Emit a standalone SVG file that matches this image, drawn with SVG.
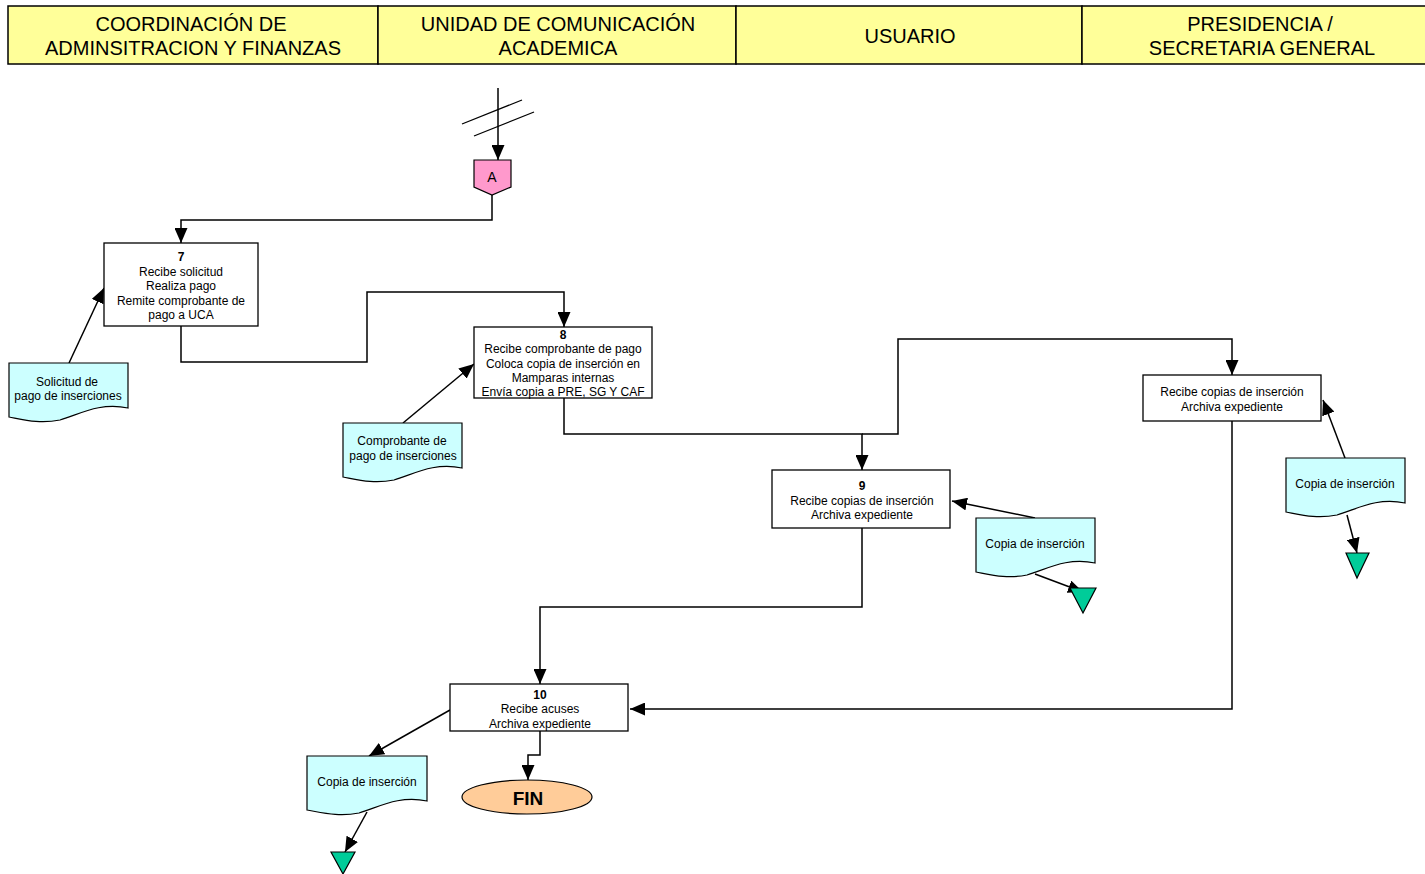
<svg xmlns="http://www.w3.org/2000/svg" width="1425" height="874" viewBox="0 0 1425 874">
<style>
.hdr{fill:#FFFF99;stroke:#000;stroke-width:1.5}
.ht{font-family:"Liberation Sans",Arial,sans-serif;font-size:20px;text-anchor:middle;fill:#000}
.box{fill:#fff;stroke:#000;stroke-width:1.3}
.t{font-family:"Liberation Sans",Arial,sans-serif;font-size:12px;text-anchor:middle;fill:#000}
.b{font-weight:bold}
.doc{fill:#CCFFFF;stroke:#000;stroke-width:1.2}
.tri{fill:#00CC99;stroke:#000;stroke-width:1.2}
.c{fill:none;stroke:#000;stroke-width:1.5}
</style>
<defs>
<marker id="ar" viewBox="0 0 15 13" refX="15" refY="6.5" markerWidth="15" markerHeight="13" markerUnits="userSpaceOnUse" orient="auto">
<path d="M0,0 L15,6.5 L0,13 Z" fill="#000"/>
</marker>
</defs>
<rect width="1425" height="874" fill="#fff"/>
<g id="header">
<rect class="hdr" x="8" y="6" width="370" height="58"/>
<rect class="hdr" x="378" y="6" width="358" height="58"/>
<rect class="hdr" x="736" y="6" width="346" height="58"/>
<rect class="hdr" x="1082" y="6" width="345" height="58"/>
<text class="ht" x="191" y="31">COORDINACIÓN DE</text>
<text class="ht" x="193" y="55">ADMINSITRACION Y FINANZAS</text>
<text class="ht" x="558" y="31">UNIDAD DE COMUNICACIÓN</text>
<text class="ht" x="558" y="55">ACADEMICA</text>
<text class="ht" x="910" y="43">USUARIO</text>
<text class="ht" x="1260" y="31">PRESIDENCIA /</text>
<text class="ht" x="1262" y="55">SECRETARIA GENERAL</text>
</g>
<g id="connectors">
<line x1="462" y1="124" x2="522" y2="100" stroke="#000" stroke-width="1.3"/>
<line x1="474" y1="136" x2="534" y2="112" stroke="#000" stroke-width="1.3"/>
<path class="c" d="M498,88 V160" marker-end="url(#ar)"/>
<path class="c" d="M492,195 V220 H181 V243" marker-end="url(#ar)"/>
<path class="c" d="M69,363 L104,288" marker-end="url(#ar)"/>
<path class="c" d="M181,326 V362 H367 V292 H564 V327" marker-end="url(#ar)"/>
<path class="c" d="M403,423 L474,364" marker-end="url(#ar)"/>
<path class="c" d="M564,398 V434 H862 V470" marker-end="url(#ar)"/>
<path class="c" d="M862,434 H898 V339 H1232 V375" marker-end="url(#ar)"/>
<path class="c" d="M1035,518 L952,501" marker-end="url(#ar)"/>
<path class="c" d="M1035,574 L1083,592" marker-end="url(#ar)"/>
<path class="c" d="M1345,458 L1323,400" marker-end="url(#ar)"/>
<path class="c" d="M1347,515 L1357,553" marker-end="url(#ar)"/>
<path class="c" d="M1232,421 V709 H630" marker-end="url(#ar)"/>
<path class="c" d="M862,528 V607 H540 V684" marker-end="url(#ar)"/>
<path class="c" d="M540,731 V755 H528 V780" marker-end="url(#ar)"/>
<path class="c" d="M450,710 L369,756" marker-end="url(#ar)"/>
<path class="c" d="M367,812 L345,852" marker-end="url(#ar)"/>
</g>
<g id="offpage-A">
<path d="M474,160 H511 V187 L492,195 L474,187 Z" fill="#FF99CC" stroke="#000" stroke-width="1.2"/>
<text class="t" x="492" y="182" style="font-size:14px">A</text>
</g>
<g id="step7">
<rect class="box" x="104" y="243" width="154" height="83"/>
<text class="t b" x="181" y="261">7</text>
<text class="t" x="181" y="276">Recibe solicitud</text>
<text class="t" x="181" y="290">Realiza pago</text>
<text class="t" x="181" y="305">Remite comprobante de</text>
<text class="t" x="181" y="319">pago a UCA</text>
</g>
<g id="doc-solicitud">
<path class="doc" d="M9,363 H128 V408 C100,402 80,414 60,420 C40,424 25,420 9,417 Z"/>
<text class="t" x="67" y="386">Solicitud de</text>
<text class="t" x="68" y="400">pago de inserciones</text>
</g>
<g id="step8">
<rect class="box" x="474" y="327" width="178" height="71"/>
<text class="t b" x="563" y="339">8</text>
<text class="t" x="563" y="353">Recibe comprobante de pago</text>
<text class="t" x="563" y="368">Coloca copia de inserción en</text>
<text class="t" x="563" y="382">Mamparas internas</text>
<text class="t" x="563" y="396">Envía copia a PRE, SG Y CAF</text>
</g>
<g id="doc-comprobante">
<path class="doc" d="M343,423 H462 V468 C434,462 414,474 394,480 C374,484 359,480 343,477 Z"/>
<text class="t" x="402" y="445">Comprobante de</text>
<text class="t" x="403" y="460">pago de inserciones</text>
</g>
<g id="step9">
<rect class="box" x="772" y="470" width="178" height="58"/>
<text class="t b" x="862" y="490">9</text>
<text class="t" x="862" y="505">Recibe copias de inserción</text>
<text class="t" x="862" y="519">Archiva expediente</text>
</g>
<g id="doc-copia-usuario">
<path class="doc" d="M976,518 H1095 V563 C1067,557 1047,569 1027,575 C1007,579 992,575 976,572 Z"/>
<text class="t" x="1035" y="548">Copia de inserción</text>
</g>
<polygon class="tri" points="1070,588 1096,588 1083,613"/>
<g id="step-pre">
<rect class="box" x="1143" y="375" width="178" height="46"/>
<text class="t" x="1232" y="396">Recibe copias de inserción</text>
<text class="t" x="1232" y="411">Archiva expediente</text>
</g>
<g id="doc-copia-pre">
<path class="doc" d="M1286,458 H1405 V503 C1377,497 1357,509 1337,515 C1317,519 1302,515 1286,512 Z"/>
<text class="t" x="1345" y="488">Copia de inserción</text>
</g>
<polygon class="tri" points="1346,553 1369,553 1357,578"/>
<g id="step10">
<rect class="box" x="450" y="684" width="178" height="47"/>
<text class="t b" x="540" y="699">10</text>
<text class="t" x="540" y="713">Recibe acuses</text>
<text class="t" x="540" y="728">Archiva expediente</text>
</g>
<g id="fin">
<ellipse cx="527" cy="797" rx="65" ry="17" fill="#FFCC99" stroke="#000" stroke-width="1.2"/>
<text x="528" y="805" style="font-family:'Liberation Sans',Arial,sans-serif;font-size:19px;font-weight:bold;text-anchor:middle">FIN</text>
</g>
<g id="doc-copia-uca">
<path class="doc" d="M307,756 H427 V801 C399,795 379,807 359,813 C339,817 324,813 307,810 Z"/>
<text class="t" x="367" y="786">Copia de inserción</text>
</g>
<polygon class="tri" points="331,852 355,852 343,874"/>
</svg>
